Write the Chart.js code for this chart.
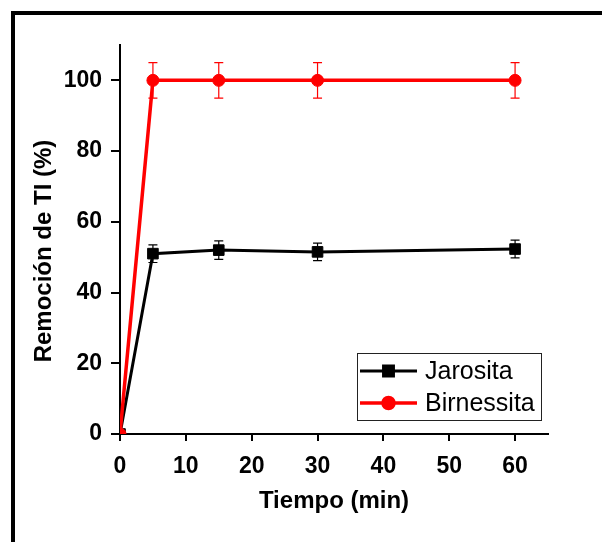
<!DOCTYPE html>
<html>
<head>
<meta charset="utf-8">
<script src="https://cdn.jsdelivr.net/npm/chart.js@4.4.1/dist/chart.umd.min.js"></script>
<style>
  html, body { margin: 0; padding: 0; background: #fff; }
  #wrap { position: relative; width: 602px; height: 542px; overflow: hidden; }
  #frame { position: absolute; left: 11px; top: 11px; width: 700px; height: 700px;
           border-left: 4px solid #000; border-top: 4px solid #000; }
  canvas { position: absolute; left: 0; top: 0; }
</style>
</head>
<body>
<div id="wrap">
  <div id="frame"></div>
  <canvas id="myChart" width="602" height="542"></canvas>
</div>
<script>
const ctx = document.getElementById('myChart');

// data
const timeMin = [0, 5, 15, 30, 60];
const jarosita = [0, 51.0, 52.0, 51.5, 52.3];
const jarositaErr = [0, 2.5, 2.6, 2.5, 2.5];
const birnessita = [0, 100, 100, 100, 100];
const birnessitaErr = [0, 5, 5, 5, 5];
const seriesNames = ['Jarosita', 'Birnessita'];
const xTicks = [0, 10, 20, 30, 40, 50, 60];
const yTicks = [0, 20, 40, 60, 80, 100];
const xTitle = 'Tiempo (min)';
const yTitle = 'Remoción de TI (%)';

const FONT = "Arial, 'Liberation Sans', sans-serif";

// vertical error bars with caps, drawn under the markers
const errorBars = {
  id: 'errorBars',
  beforeDatasetsDraw(chart) {
    const c = chart.ctx;
    const x = chart.scales.x, y = chart.scales.y;
    c.save();
    chart.data.datasets.forEach(ds => {
      c.strokeStyle = ds.borderColor;
      c.lineWidth = 1.2;
      ds.errors.forEach((e, j) => {
        if (!e) return;
        const px = x.getPixelForValue(ds.data[j].x);
        const yt = y.getPixelForValue(ds.data[j].y + e);
        const yb = y.getPixelForValue(ds.data[j].y - e);
        const w = ds.capWidth;
        c.beginPath();
        c.moveTo(px, yt); c.lineTo(px, yb);
        c.moveTo(px - w, yt); c.lineTo(px + w, yt);
        c.moveTo(px - w, yb); c.lineTo(px + w, yb);
        c.stroke();
      });
    });
    c.restore();
  }
};

// boxed legend inside the plot + rotated y title
const extras = {
  id: 'extras',
  afterDraw(chart) {
    const c = chart.ctx;
    c.save();
    // y axis title
    c.translate(44, 251);
    c.rotate(-Math.PI / 2);
    c.font = 'bold 24px ' + FONT;
    c.fillStyle = '#000';
    c.textAlign = 'center';
    c.textBaseline = 'middle';
    c.fillText(yTitle, 0, 0);
    c.restore();

    // legend
    c.save();
    c.strokeStyle = '#222';
    c.lineWidth = 1;
    c.strokeRect(357.5, 353.5, 184, 67);
    const rows = [371, 403];
    chart.data.datasets.forEach((ds, i) => {
      const ry = rows[i];
      c.strokeStyle = ds.borderColor;
      c.fillStyle = ds.backgroundColor;
      c.lineWidth = ds.borderWidth;
      c.beginPath();
      c.moveTo(360, ry); c.lineTo(417, ry);
      c.stroke();
      Chart.helpers.drawPoint(c, {
        pointStyle: ds.pointStyle, radius: ds.pointRadius - 0.5, rotation: 0, borderWidth: 1
      }, 388.5, ry);
      c.fillStyle = '#000';
      c.font = '25px ' + FONT;
      c.textAlign = 'left';
      c.textBaseline = 'middle';
      c.fillText(ds.label, 425, ry + 1);
    });
    c.restore();
  }
};

function pts(vals) {
  return timeMin.map((t, i) => ({x: t, y: vals[i]}));
}

new Chart(ctx, {
  type: 'line',
  data: {
    datasets: [{
      label: seriesNames[0],
      data: pts(jarosita),
      errors: jarositaErr,
      capWidth: 4.5,
      borderColor: '#000000',
      backgroundColor: '#000000',
      borderWidth: 3,
      pointStyle: 'rect',
      pointRadius: 7.5,
      pointBorderWidth: 1,
      order: 1
    }, {
      label: seriesNames[1],
      data: pts(birnessita),
      errors: birnessitaErr,
      capWidth: 4.5,
      borderColor: '#ff0000',
      backgroundColor: '#ff0000',
      borderWidth: 3.5,
      pointStyle: 'circle',
      pointRadius: 6,
      pointBorderWidth: 1,
      order: 0
    }]
  },
  options: {
    responsive: false,
    animation: false,
    events: [],
    layout: { padding: { left: 20, top: 45, right: 54, bottom: 0 } },
    plugins: { legend: { display: false }, tooltip: { enabled: false } },
    scales: {
      x: {
        type: 'linear',
        min: 0,
        max: 65,
        afterBuildTicks: s => { s.ticks = xTicks.map(v => ({value: v})); },
        afterFit: s => { s.height = 108; },
        border: { display: true, color: '#000', width: 2 },
        grid: { drawOnChartArea: false, drawTicks: true, tickLength: 7, color: '#000', lineWidth: 2 },
        ticks: { color: '#000', padding: 12, maxRotation: 0, font: { family: FONT, size: 23, weight: 'bold' } },
        title: {
          display: true, text: xTitle, color: '#000',
          font: { family: FONT, size: 24, weight: 'bold' },
          padding: { top: 0, bottom: 26 }
        }
      },
      y: {
        type: 'linear',
        min: 0,
        max: 110,
        afterBuildTicks: s => { s.ticks = yTicks.map(v => ({value: v})); },
        afterFit: s => { s.width = 100; },
        border: { display: true, color: '#000', width: 2 },
        grid: { drawOnChartArea: false, drawTicks: true, tickLength: 9, color: '#000', lineWidth: 2 },
        ticks: { color: '#000', padding: 9, font: { family: FONT, size: 23, weight: 'bold' } }
      }
    }
  },
  plugins: [errorBars, extras]
});
</script>
</body>
</html>
